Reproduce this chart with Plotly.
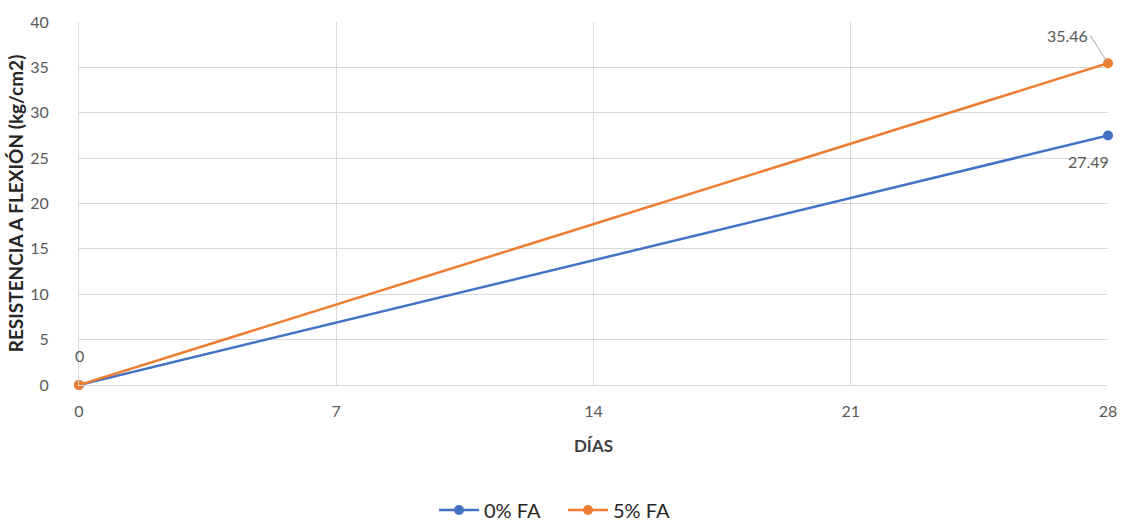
import plotly.graph_objects as go

dias = [0, 28]
serie_0 = [0, 27.49]
serie_5 = [0, 35.46]
nombres = ["0% FA", "5% FA"]
x_ticks = [0, 7, 14, 21, 28]
y_ticks = [0, 5, 10, 15, 20, 25, 30, 35, 40]

azul = "#4472C4"
naranja = "#ED7D31"
gris = "#595959"
fuente = "Lato"

fig = go.Figure()
for ys, nm, col in [(serie_0, nombres[0], azul), (serie_5, nombres[1], naranja)]:
    fig.add_trace(go.Scatter(x=dias, y=ys, name=nm, mode="lines+markers",
                             line=dict(color=col, width=2.5),
                             marker=dict(color=col, size=10), cliponaxis=False))

# data labels
fig.add_annotation(x=dias[0], y=serie_5[0], text=f"{serie_5[0]:g}", showarrow=False,
                   yshift=30, xshift=0, font=dict(size=16, color=gris, family=fuente))
fig.add_annotation(x=dias[1], y=serie_5[1], text=f"{serie_5[1]:.2f}", showarrow=True,
                   arrowhead=0, arrowwidth=1, arrowcolor="#A6A6A6", ax=-18, ay=-28,
                   xanchor="right", yanchor="middle",
                   font=dict(size=16, color=gris, family=fuente))
fig.add_annotation(x=dias[1], y=serie_0[1], text=f"{serie_0[1]:.2f}", showarrow=False,
                   xanchor="right", yshift=-26, xshift=3,
                   font=dict(size=16, color=gris, family=fuente))

fig.update_layout(
    width=1126, height=523,
    margin=dict(l=79, r=18, t=22, b=138),
    paper_bgcolor="white", plot_bgcolor="white",
    font=dict(family=fuente, size=16, color=gris),
    showlegend=True,
    legend=dict(orientation="h", xref="container", x=0.5, xanchor="center",
                yref="container", y=0.025, yanchor="middle",
                font=dict(size=20, color="#262626", family=fuente),
                itemwidth=40, entrywidth=74),
    xaxis=dict(range=[0, 28], tickvals=x_ticks, showgrid=True, gridcolor="#D9D9D9",
               zeroline=False, showline=True, linecolor="#D9D9D9", mirror=False,
               ticks="", tickfont=dict(size=16, color=gris), automargin=False,
               ticklabelstandoff=12,
               title=dict(text="<b>DÍAS</b>", font=dict(size=17, color="#404040"), standoff=20)),
    yaxis=dict(range=[0, 40], tickvals=y_ticks, showgrid=True, gridcolor="#D9D9D9",
               zeroline=False, showline=True, linecolor="#D9D9D9", automargin=False,
               ticks="", tickfont=dict(size=16, color=gris), ticklabelstandoff=26,
               title=dict(text="<b>RESISTENCIA A FLEXIÓN (kg/cm2)</b>",
                          font=dict(size=19, color="#262626"), standoff=1)),
)

fig.write_html("out.html")
